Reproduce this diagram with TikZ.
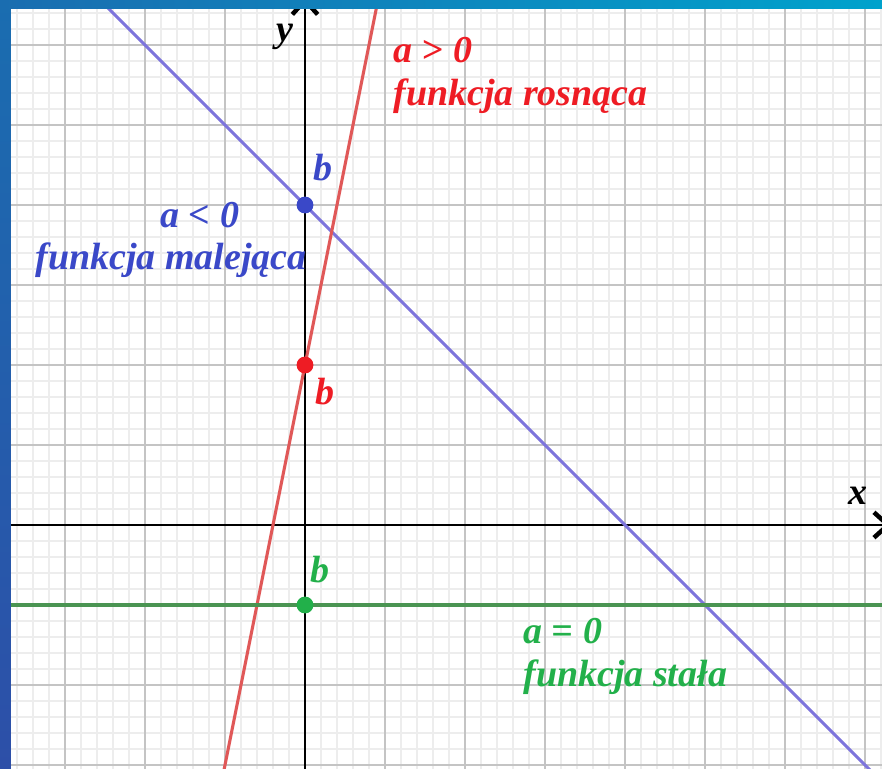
\documentclass[tikz,border=0pt]{standalone}
\usepackage{fontspec}
\setmainfont{Liberation Serif}
\usetikzlibrary{arrows.meta,positioning}

\definecolor{gridminor}{HTML}{EDEDED}
\definecolor{gridmajor}{HTML}{C4C4C4}
\definecolor{blueline}{HTML}{7D74DC}
\definecolor{bluetxt}{HTML}{3A48C8}
\definecolor{redline}{HTML}{E05858}
\definecolor{redtxt}{HTML}{EE1C24}
\definecolor{greenline}{HTML}{4A9452}
\definecolor{greentxt}{HTML}{22B04A}
\definecolor{frameA}{HTML}{1A6DB0}
\definecolor{frameB}{HTML}{2D4FA8}
\definecolor{frameC}{HTML}{00A2CC}

\begin{document}
\begin{tikzpicture}[
            minorgrid/.style={draw=gridminor, line width=0.4pt},
            majorgrid/.style={draw=gridmajor, line width=0.6pt},
            axis/.style={draw=black, line width=0.5pt, -{Straight Barb[length=5pt, width=9pt, line width=1.6pt]}},
            graph/.style={line width=1.1pt},
            dot/.style={circle, fill, inner sep=0pt, minimum size=6pt},
            lbl/.style={font=\bfseries\itshape\fontsize{13.5}{16}\selectfont, inner sep=0pt}
        ]

        \useasboundingbox (-3.8125,-3.05) rectangle (7.2125,6.5625);

        % grid
        \draw[minorgrid] (-3.675,-3.05) grid[step=0.2] (7.2125,6.45);
        \draw[majorgrid] (-3.675,-3.05) grid[step=1] (7.2125,6.45);

        % axes
        \coordinate (xL) at (-3.675,0);
        \coordinate (xR) at (7.33,0);
        \coordinate (yB) at (0,-3.05);
        \coordinate (yT) at (0,6.6);
        \draw[axis] (xL) -- (xR);
        \draw[axis] (yB) -- (yT);
        \node[lbl, anchor=base west] (xlab) at (6.7875,0.25) {x};
        \node[lbl, anchor=base west] (ylab) at (-0.36,6.04) {y};

        % lines
        \coordinate (blueA) at (-3,7);
        \coordinate (blueB) at (8,-4);
        \coordinate (redA) at (-1.2,-4);
        \coordinate (redB) at (1,7);
        \coordinate (greenA) at (-3.675,-1);
        \coordinate (greenB) at (7.2125,-1);
        \begin{scope}
            \clip (-3.675,-3.05) rectangle (7.2125,6.45);
            \draw[graph, blueline] (blueA) -- (blueB);
            \draw[graph, redline] (redA) -- (redB);
        \end{scope}
        \draw[graph, greenline, line width=1.4pt] (greenA) -- (greenB);

        % intercepts
        \node[dot, bluetxt] (bBlue) at (0,4) {};
        \node[dot, redtxt] (bRed) at (0,2) {};
        \node[dot, greentxt] (bGreen) at (0,-1) {};

        \node[lbl, text=bluetxt, above right=0.22cm and 0.02cm of bBlue] (bBlueLab) {b};
        \node[lbl, text=redtxt, below right=0.08cm and 0.05cm of bRed] (bRedLab) {b};
        \node[lbl, text=greentxt, above right=0.19cm and -0.02cm of bGreen] (bGreenLab) {b};

        % descriptions
        \node[lbl, text=redtxt, anchor=base west] (aPos) at (1.1,5.775) {a > 0};
        \node[lbl, text=redtxt, anchor=base west] (rosnaca) at (1.1,5.2375) {funkcja rosnąca};

        \node[lbl, text=bluetxt, anchor=base west] (aNeg) at (-1.8125,3.7125) {a < 0};
        \node[lbl, text=bluetxt, anchor=base west] (malejaca) at (-3.375,3.1875) {funkcja malejąca};

        \node[lbl, text=greentxt, anchor=base west] (aZero) at (2.725,-1.475) {a = 0};
        \node[lbl, text=greentxt, anchor=base west] (stala) at (2.725,-2.0125) {funkcja stała};

        % frame
        \shade[top color=frameA, bottom color=frameB] (-3.8125,-3.05) rectangle (-3.675,6.5625);
        \shade[left color=frameA, right color=frameC] (-3.8125,6.45) rectangle (7.2125,6.5625);

    \end{tikzpicture}
\end{document}
